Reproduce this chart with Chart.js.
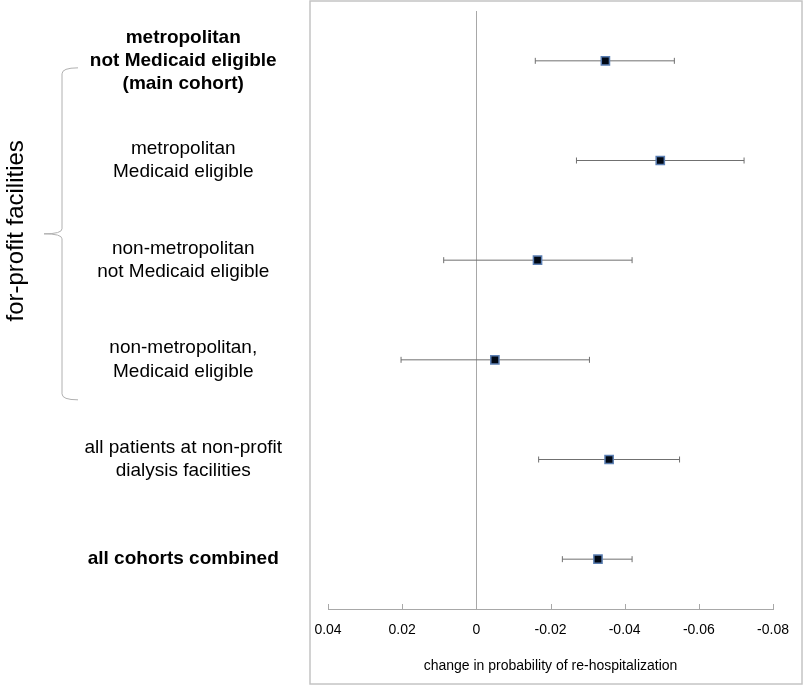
<!DOCTYPE html>
<html lang="en">
<head>
    <meta charset="UTF-8">
    <title>Change in probability of re-hospitalization</title>
    <script src="https://cdn.jsdelivr.net/npm/chart.js"></script>
    <style>
        body { margin: 0; background: #fff; }
        #wrap { width: 805px; height: 685px; }
    </style>
</head>
<body>
    <div id="wrap">
        <canvas id="forestChart" width="805" height="685"></canvas>
    </div>

    <script>
        // cohorts, top to bottom
        const cohortLabels = [
            ['metropolitan', 'not Medicaid eligible', '(main cohort)'],
            ['metropolitan', 'Medicaid eligible'],
            ['non-metropolitan', 'not Medicaid eligible'],
            ['non-metropolitan,', 'Medicaid eligible'],
            ['all patients at non-profit', 'dialysis facilities'],
            ['all cohorts combined']
        ];
        const boldRows = [0, 5];

        // point estimates and confidence limits
        const estimates = [-0.0348, -0.0496, -0.0165, -0.0050, -0.0358, -0.0328];
        const ciLower = [-0.0534, -0.0722, -0.0420, -0.0305, -0.0548, -0.0420];
        const ciUpper = [-0.0159, -0.0270, 0.0088, 0.0203, -0.0168, -0.0232];

        const xTicks = [0.04, 0.02, 0, -0.02, -0.04, -0.06, -0.08];
        const groupLabel = 'for-profit facilities';
        const groupRows = [0, 3];

        const lineGrey = '#707070';
        const axisGrey = '#a8a8a8';

        // one small line per cohort for the interval, with caps at both ends
        const ciSets = estimates.map((_, i) => ({
            type: 'line',
            data: [{ x: ciLower[i], y: i }, { x: ciUpper[i], y: i }],
            borderColor: lineGrey,
            borderWidth: 1,
            pointStyle: 'line',
            pointRotation: 90,
            pointRadius: 3,
            pointBorderColor: lineGrey,
            pointBorderWidth: 1,
            fill: false,
            order: 1
        }));

        const pointSet = {
            type: 'scatter',
            data: estimates.map((v, i) => ({ x: v, y: i })),
            pointStyle: 'rect',
            pointRadius: 5.8,
            backgroundColor: '#000814',
            borderColor: '#5b7fb3',
            borderWidth: 1.5,
            order: 0
        };

        // frame, brace, group label, small inside ticks
        const decorations = {
            id: 'decorations',
            afterDraw(chart) {
                const { ctx, chartArea, scales } = chart;
                const xs = scales.x, ys = scales.y;
                ctx.save();

                // frame around the plot
                ctx.strokeStyle = '#c4c4c4';
                ctx.lineWidth = 1.5;
                ctx.strokeRect(chartArea.left - 18, 1, chart.width - 3 - (chartArea.left - 18), chart.height - 2);

                // tick marks pointing up from the axis line
                ctx.strokeStyle = axisGrey;
                ctx.lineWidth = 1;
                xTicks.forEach(v => {
                    const px = Math.round(xs.getPixelForValue(v)) + 0.5;
                    ctx.beginPath();
                    ctx.moveTo(px, chartArea.bottom - 5);
                    ctx.lineTo(px, chartArea.bottom);
                    ctx.stroke();
                });

                // curly brace for the for-profit group
                const top = ys.getPixelForValue(groupRows[0]) + 7;
                const bot = ys.getPixelForValue(groupRows[1]) + 40;
                const mid = (top + bot) / 2;
                const bx = 62, tipX = 44, endX = 78;
                ctx.strokeStyle = '#b0b0b0';
                ctx.lineWidth = 1;
                ctx.beginPath();
                ctx.moveTo(endX, top);
                ctx.quadraticCurveTo(bx, top, bx, top + 6);
                ctx.lineTo(bx, mid - 5);
                ctx.quadraticCurveTo(bx, mid, tipX, mid);
                ctx.quadraticCurveTo(bx, mid, bx, mid + 5);
                ctx.lineTo(bx, bot - 6);
                ctx.quadraticCurveTo(bx, bot, endX, bot);
                ctx.stroke();

                // rotated group label
                ctx.fillStyle = '#000';
                ctx.font = '24px "Liberation Sans", Arial, sans-serif';
                ctx.textAlign = 'center';
                ctx.textBaseline = 'middle';
                ctx.translate(16, mid - 3);
                ctx.rotate(-Math.PI / 2);
                ctx.fillText(groupLabel, 0, 0);

                ctx.restore();
            }
        };

        const chart = new Chart(document.getElementById('forestChart'), {
            data: {
                datasets: [pointSet, ...ciSets]
            },
            options: {
                responsive: false,
                animation: false,
                layout: { padding: { top: 11, right: 32, bottom: 0, left: 0 } },
                plugins: {
                    legend: { display: false },
                    tooltip: { enabled: false }
                },
                scales: {
                    x: {
                        type: 'linear',
                        reverse: true,
                        min: -0.08,
                        max: 0.04,
                        afterBuildTicks: scale => {
                            scale.ticks = xTicks.map(v => ({ value: v }));
                        },
                        afterFit: scale => {
                            scale.height = 76;
                            scale.paddingLeft = 0;
                            scale.paddingRight = 0;
                        },
                        grid: {
                            drawTicks: false,
                            color: c => (c.tick && c.tick.value === 0) ? axisGrey : 'rgba(0,0,0,0)',
                            lineWidth: 1
                        },
                        border: { display: true, color: axisGrey, width: 1 },
                        ticks: {
                            padding: 13,
                            color: '#000',
                            font: { family: '"Liberation Sans", Arial, sans-serif', size: 14 },
                            callback: v => String(+Number(v).toFixed(2))
                        },
                        title: {
                            display: true,
                            text: 'change in probability of re-hospitalization',
                            color: '#000',
                            font: { family: '"Liberation Sans", Arial, sans-serif', size: 14 },
                            padding: { top: 4, bottom: 10 }
                        }
                    },
                    y: {
                        type: 'linear',
                        reverse: true,
                        min: -0.5,
                        max: cohortLabels.length - 0.5,
                        afterBuildTicks: scale => {
                            scale.ticks = cohortLabels.map((_, i) => ({ value: i }));
                        },
                        afterFit: scale => {
                            scale.width = 328;
                            scale.paddingTop = 0;
                            scale.paddingBottom = 0;
                        },
                        grid: { display: false, drawTicks: false },
                        border: { display: false },
                        ticks: {
                            crossAlign: 'center',
                            padding: 46,
                            color: '#000',
                            callback: v => cohortLabels[v],
                            font: c => ({
                                family: '"Liberation Sans", Arial, sans-serif',
                                size: 19,
                                lineHeight: 1.23,
                                weight: boldRows.includes(c.index) ? 'bold' : 'normal'
                            })
                        }
                    }
                }
            },
            plugins: [decorations]
        });
    </script>
</body>
</html>
